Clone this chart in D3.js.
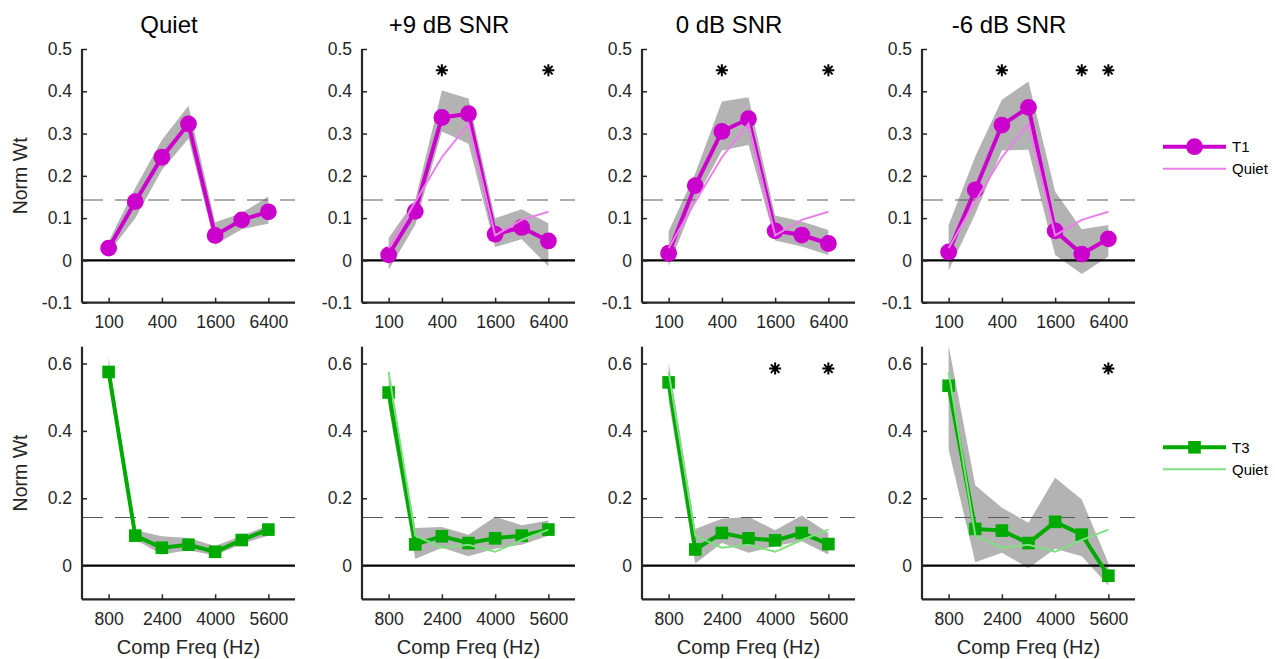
<!DOCTYPE html>
<html><head><meta charset="utf-8">
<script src="https://cdn.jsdelivr.net/npm/d3@7"></script>
<style>body{margin:0;background:#fff}svg{display:block}text{font-family:"Liberation Sans",Arial,sans-serif}</style>
</head><body>
<svg id="c" width="1275" height="659"></svg>
<script>
// ---------- data ----------
const titles = ["Quiet", "+9 dB SNR", "0 dB SNR", "-6 dB SNR"];
const freqT1 = [100, 200, 400, 800, 1600, 3200, 6400];
const freqT3 = [800, 1600, 2400, 3200, 4000, 4800, 5600];
const tickT1 = [100, 400, 1600, 6400];
const tickT3 = [800, 2400, 4000, 5600];
const yTickT1 = [-0.1, 0, 0.1, 0.2, 0.3, 0.4, 0.5];
const yTickT3 = [0, 0.2, 0.4, 0.6];
const chance = 1 / 7;

// T1 weights (top row)
const t1Mean = [
  [0.029, 0.139, 0.244, 0.323, 0.059, 0.096, 0.115],
  [0.013, 0.116, 0.338, 0.347, 0.062, 0.078, 0.046],
  [0.017, 0.177, 0.305, 0.335, 0.070, 0.060, 0.040],
  [0.020, 0.167, 0.320, 0.362, 0.070, 0.015, 0.051]
];
const t1Lo = [
  [0.018, 0.100, 0.214, 0.288, 0.037, 0.074, 0.087],
  [-0.022, 0.084, 0.305, 0.276, 0.032, 0.050, -0.014],
  [-0.014, 0.143, 0.260, 0.273, 0.047, 0.033, 0.013],
  [-0.024, 0.110, 0.260, 0.262, 0.013, -0.032, 0.009]
];
const t1Hi = [
  [0.045, 0.171, 0.285, 0.366, 0.090, 0.112, 0.151],
  [0.053, 0.143, 0.402, 0.383, 0.100, 0.121, 0.088],
  [0.069, 0.206, 0.376, 0.386, 0.106, 0.092, 0.072],
  [0.084, 0.246, 0.380, 0.423, 0.163, 0.074, 0.084]
];
// T3 weights (bottom row)
const t3Mean = [
  [0.575, 0.089, 0.053, 0.062, 0.041, 0.076, 0.107],
  [0.514, 0.063, 0.087, 0.067, 0.081, 0.089, 0.107],
  [0.544, 0.048, 0.097, 0.081, 0.075, 0.097, 0.064],
  [0.534, 0.109, 0.104, 0.067, 0.130, 0.092, -0.030]
];
const t3Lo = [
  [0.555, 0.077, 0.033, 0.046, 0.030, 0.065, 0.089],
  [0.470, 0.020, 0.053, 0.028, 0.050, 0.062, 0.089],
  [0.490, 0.006, 0.067, 0.038, 0.058, 0.072, 0.033],
  [0.345, 0.010, 0.038, -0.007, 0.050, 0.028, -0.059]
];
const t3Hi = [
  [0.618, 0.105, 0.087, 0.082, 0.058, 0.089, 0.119],
  [0.565, 0.112, 0.115, 0.092, 0.145, 0.120, 0.134],
  [0.603, 0.109, 0.139, 0.145, 0.105, 0.149, 0.097],
  [0.653, 0.239, 0.172, 0.127, 0.261, 0.196, 0.008]
];
// significance markers
const t1Stars = [[], [400, 6400], [400, 6400], [400, 3200, 6400]];
const t3Stars = [[], [], [4000, 5600], [5600]];
const starY1 = 0.45, starY3 = 0.585;

// ---------- styles ----------
const C = {
  t1: "#cc00cc", t1q: "#ea80ea",
  t3: "#00aa00", t3q: "#80df80",
  band: "#b3b3b3", axis: "#262626"
};

const svg = d3.select("#c");
const panelW = 213;
const lefts = [82, 362, 642, 922];
const rows = [
  { top: 49, bottom: 302.7, ydom: [-0.1, 0.5], yt: yTickT1, xs: () => d3.scaleLog().domain([50, 12800]),
    xt: tickT1, freq: freqT1, mean: t1Mean, lo: t1Lo, hi: t1Hi, stars: t1Stars, starY: starY1,
    col: C.t1, qcol: C.t1q, marker: "circle" },
  { top: 346.7, bottom: 599.3, ydom: [-0.1, 0.65], yt: yTickT3, xs: () => d3.scaleLinear().domain([0, 6400]),
    xt: tickT3, freq: freqT3, mean: t3Mean, lo: t3Lo, hi: t3Hi, stars: t3Stars, starY: starY3,
    col: C.t3, qcol: C.t3q, marker: "square" }
];
const fmtY = v => (Math.abs(v) < 1e-9 ? "0" : v.toFixed(1));

function starPath(r) {
  let p = "";
  for (let k = 0; k < 4; k++) {
    const a = k * Math.PI / 4;
    const dx = r * Math.cos(a), dy = r * Math.sin(a);
    p += `M${-dx},${-dy}L${dx},${dy}`;
  }
  return p;
}

rows.forEach((R, ri) => {
  titles.forEach((t, pi) => {
    const L = lefts[pi];
    const x = R.xs().range([L, L + panelW]);
    const y = d3.scaleLinear().domain(R.ydom).range([R.bottom, R.top]);
    const g = svg.append("g");

    // band
    const area = d3.area().x((d, i) => x(R.freq[i])).y0((d, i) => y(R.lo[pi][i])).y1((d, i) => y(R.hi[pi][i]));
    g.append("path").attr("d", area(R.freq)).attr("fill", C.band).attr("stroke", "none");

    // zero and chance lines
    g.append("line").attr("x1", L).attr("x2", L + panelW).attr("y1", y(0)).attr("y2", y(0))
      .attr("stroke", "#000").attr("stroke-width", 2.4);
    g.append("line").attr("x1", L).attr("x2", L + panelW).attr("y1", y(chance)).attr("y2", y(chance))
      .attr("stroke", "#5a5a5a").attr("stroke-width", 1.2).attr("stroke-dasharray", "21,12");

    // main line
    const line = d3.line().x((d, i) => x(R.freq[i])).y(d => y(d));
    g.append("path").attr("d", line(R.mean[pi])).attr("fill", "none").attr("stroke", R.col).attr("stroke-width", 4);
    // markers
    if (R.marker === "circle") {
      g.selectAll(null).data(R.mean[pi]).join("circle")
        .attr("cx", (d, i) => x(R.freq[i])).attr("cy", d => y(d)).attr("r", 8.4).attr("fill", R.col);
    } else {
      g.selectAll(null).data(R.mean[pi]).join("rect")
        .attr("x", (d, i) => x(R.freq[i]) - 6.3).attr("y", d => y(d) - 6.3)
        .attr("width", 12.6).attr("height", 12.6).attr("fill", R.col);
    }
    // quiet reference
    if (pi > 0) {
      g.append("path").attr("d", line(R.mean[0])).attr("fill", "none").attr("stroke", R.qcol).attr("stroke-width", 2);
    }
    // stars
    R.stars[pi].forEach(f => {
      g.append("path").attr("d", starPath(6)).attr("transform", `translate(${x(f)},${y(R.starY)})`)
        .attr("stroke", "#000").attr("stroke-width", 2).attr("fill", "none");
    });

    // axes
    const ya = d3.axisLeft(y).tickValues(R.yt).tickFormat(fmtY).tickSizeInner(-5).tickSizeOuter(0).tickPadding(10);
    const xa = d3.axisBottom(x).tickValues(R.xt).tickFormat(d3.format("d")).tickSizeInner(-5).tickSizeOuter(0).tickPadding(13);
    const gy = g.append("g").attr("transform", `translate(${L},0)`).call(ya);
    const gx = g.append("g").attr("transform", `translate(0,${R.bottom})`).call(xa);
    [gy, gx].forEach(a => {
      a.select(".domain").attr("stroke", C.axis).attr("stroke-width", 2.2);
      a.selectAll(".tick line").attr("stroke", C.axis).attr("stroke-width", 1.5);
      a.selectAll(".tick text").attr("fill", C.axis).style("font-size", "17.5px").style("font-family", "Liberation Sans, Arial, sans-serif");
    });
    gy.select(".domain").attr("d", `M0,${R.bottom}V${R.top}`);
    gx.select(".domain").attr("d", `M${L},0H${L + panelW}`);

    if (ri === 0) {
      svg.append("text").attr("x", L + 87).attr("y", 33).attr("text-anchor", "middle")
        .style("font-size", "24px").attr("fill", "#000").text(t);
    } else {
      svg.append("text").attr("x", L + panelW / 2).attr("y", 654).attr("text-anchor", "middle")
        .style("font-size", "20px").attr("fill", C.axis).text("Comp Freq (Hz)");
    }
    if (pi === 0) {
      svg.append("text").attr("transform", `translate(27,${(R.top + R.bottom) / 2}) rotate(-90)`)
        .attr("text-anchor", "middle").style("font-size", "19.5px").attr("fill", C.axis).text("Norm Wt");
    }
  });
});

// legends
const legends = [
  { y: 146.7, name: "T1", col: C.t1, qcol: C.t1q, marker: "circle" },
  { y: 447.3, name: "T3", col: C.t3, qcol: C.t3q, marker: "square" }
];
legends.forEach(Lg => {
  const g = svg.append("g");
  const x0 = 1163, x1 = 1226, xm = 1194.5;
  g.append("line").attr("x1", x0).attr("x2", x1).attr("y1", Lg.y).attr("y2", Lg.y).attr("stroke", Lg.col).attr("stroke-width", 4);
  if (Lg.marker === "circle") g.append("circle").attr("cx", xm).attr("cy", Lg.y).attr("r", 8.4).attr("fill", Lg.col);
  else g.append("rect").attr("x", xm - 6.3).attr("y", Lg.y - 6.3).attr("width", 12.6).attr("height", 12.6).attr("fill", Lg.col);
  g.append("line").attr("x1", x0).attr("x2", x1).attr("y1", Lg.y + 22).attr("y2", Lg.y + 22).attr("stroke", Lg.qcol).attr("stroke-width", 2);
  g.append("text").attr("x", 1232).attr("y", Lg.y + 5.5).style("font-size", "15px").attr("fill", "#000").text(Lg.name);
  g.append("text").attr("x", 1232).attr("y", Lg.y + 27.5).style("font-size", "15px").attr("fill", "#000").text("Quiet");
});
</script>
</body></html>
